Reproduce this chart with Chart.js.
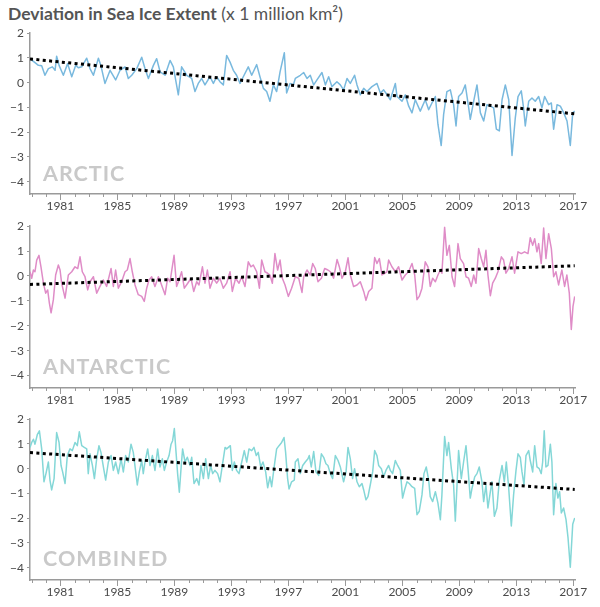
<!DOCTYPE html>
<html><head><meta charset="utf-8">
<script src="https://cdn.jsdelivr.net/npm/chart.js@4/dist/chart.umd.min.js"></script>
<style>
body{margin:0;background:#fff;width:600px;height:607px;position:relative;overflow:hidden;font-family:Lato,"Open Sans",sans-serif}
.title{position:absolute;left:8px;top:3px;font-size:17.5px;line-height:21px;color:#555;white-space:nowrap}
.title b{font-weight:700}
canvas{position:absolute;left:0}
.lbl{position:absolute;left:43px;font-weight:700;font-size:21.5px;line-height:25.8px;letter-spacing:1px;color:#c9c9c9;white-space:nowrap}
</style></head><body>
<div class="title"><b>Deviation in Sea Ice Extent</b> (x 1 million km²)</div>
<canvas id="c1" width="600" height="195" style="top:23px"></canvas>
<canvas id="c2" width="600" height="196" style="top:216px"></canvas>
<canvas id="c3" width="600" height="195" style="top:409px"></canvas>
<div class="lbl" style="top:161px">ARCTIC</div>
<div class="lbl" style="top:354px">ANTARCTIC</div>
<div class="lbl" style="top:546px">COMBINED</div>
<script>
const tickYears = [1981,1985,1989,1993,1997,2001,2005,2009,2013,2017];
const yTicks = [-4,-3,-2,-1,0,1,2];
const trendYears = [1978.87, 2017.1];

const arcticYears = [1978.87,1979.22,1979.46,1979.69,1979.92,1980.16,1980.44,1980.63,1980.74,1980.91,1981.21,1981.51,1981.80,1982.08,1982.26,1982.50,1982.85,1983.08,1983.32,1983.67,1983.85,1984.13,1984.49,1984.88,1985.19,1985.54,1985.77,1986.01,1986.36,1986.71,1986.94,1987.18,1987.53,1987.76,1988.00,1988.35,1988.70,1988.93,1989.28,1989.51,1989.87,1990.22,1990.45,1990.68,1990.92,1991.15,1991.50,1991.74,1991.97,1992.20,1992.44,1992.67,1992.91,1993.14,1993.37,1993.61,1993.84,1994.19,1994.43,1994.78,1995.01,1995.25,1995.48,1995.71,1995.95,1996.18,1996.42,1996.72,1996.88,1997.12,1997.35,
1997.49,1997.84,1998.08,1998.31,1998.54,1998.78,1999.01,1999.36,1999.60,1999.83,2000.06,2000.41,2000.65,2000.88,2001.12,2001.35,2001.65,2001.82,2002.05,2002.29,2002.52,2002.87,2003.22,2003.46,2003.69,2003.93,2004.16,2004.51,2004.63,2004.98,2005.21,2005.45,2005.68,2005.91,2006.26,2006.61,2006.85,2007.08,2007.32,2007.50,2007.73,2007.90,2008.13,2008.37,2008.60,2008.77,2008.95,2009.19,2009.42,2009.66,2009.77,2010.01,2010.24,2010.48,2010.71,2010.94,2011.18,2011.41,2011.60,2011.81,2012.00,2012.23,2012.47,2012.70,2012.93,2013.12,2013.35,2013.51,2013.63,2013.87,2014.10,2014.33,2014.57,2014.80,2014.99,2015.27,2015.46,2015.62,2015.86,2016.09,2016.33,2016.56,2016.79,2016.96,2017.10];
const arcticValues = [0.97,0.81,0.70,0.68,0.30,0.57,0.64,0.50,1.07,0.70,0.30,0.77,0.24,0.70,0.60,0.64,0.99,0.57,0.30,0.99,0.68,-0.03,0.50,0.11,0.50,0.64,0.17,0.30,0.57,1.03,0.57,0.17,0.70,0.97,0.44,0.30,0.90,0.64,-0.49,0.64,0.30,0.17,-0.36,-0.03,0.17,-0.09,0.24,-0.03,0.24,0.04,-0.09,1.10,0.83,0.50,0.30,-0.03,0.24,0.64,0.30,0.73,0.24,-0.23,-0.36,-0.75,-0.09,-0.36,0.44,1.21,-0.42,-0.03,-0.09,
0.17,0.30,0.41,0.17,0.30,-0.09,0.11,0.41,-0.09,0.24,-0.16,0.04,-0.09,-0.29,0.17,-0.03,0.30,-0.09,-0.49,-0.23,-0.36,-0.16,-0.03,-0.42,-0.29,-0.49,-0.69,-0.03,-0.56,-0.75,-0.49,-0.95,-1.22,-0.69,-1.15,-0.69,-1.09,-0.82,-0.56,-1.68,-2.54,-1.28,-0.36,-0.29,-0.89,-1.75,-0.56,-0.42,-0.09,-1.02,-1.48,-0.75,-0.09,-1.22,-1.55,-0.89,-0.95,-1.02,-1.88,-1.95,-0.69,-0.09,-0.69,-2.94,-1.42,-0.56,-0.33,-1.02,-1.75,-0.75,-0.62,-0.75,-0.56,-1.02,-0.56,-0.89,-0.82,-1.88,-0.89,-0.95,-1.22,-1.55,-2.54,-1.22,-1.15];
const arcticTrend = [0.96, -1.26];

const antarcticYears = [1978.87,1978.99,1979.11,1979.22,1979.34,1979.50,1979.64,1979.81,1979.97,1980.11,1980.23,1980.35,1980.51,1980.67,1980.86,1980.98,1981.09,1981.33,1981.56,1981.80,1982.03,1982.22,1982.38,1982.54,1982.73,1982.92,1983.08,1983.32,1983.55,1983.78,1984.02,1984.25,1984.56,1984.72,1984.88,1985.07,1985.30,1985.54,1985.70,1985.89,1986.05,1986.24,1986.47,1986.71,1986.89,1987.06,1987.22,1987.41,1987.64,1987.88,1988.06,1988.35,1988.53,1988.70,1988.98,1989.16,1989.33,1989.51,1989.70,1989.94,1990.17,1990.36,1990.57,1990.73,1990.97,1991.15,1991.32,1991.50,1991.74,1991.97,1992.20,1992.44,1992.67,1992.91,1993.07,1993.30,1993.54,1993.73,1993.96,1994.19,1994.38,1994.54,1994.78,1994.97,1995.13,1995.36,1995.55,1995.71,1995.88,1996.06,1996.25,1996.42,1996.58,1996.77,1997.00,1997.23,
1997.49,1997.73,1997.96,1998.08,1998.31,1998.54,1998.71,1998.89,1999.08,1999.32,1999.55,1999.78,1999.95,2000.18,2000.42,2000.58,2000.77,2001.00,2001.19,2001.35,2001.58,2001.82,2002.05,2002.29,2002.45,2002.64,2002.87,2003.06,2003.22,2003.39,2003.57,2003.76,2003.92,2004.04,2004.27,2004.51,2004.74,2004.98,2005.21,2005.44,2005.68,2005.87,2006.03,2006.19,2006.38,2006.61,2006.80,2006.96,2007.13,2007.32,2007.50,2007.67,2007.78,2007.97,2008.13,2008.30,2008.49,2008.67,2008.91,2009.07,2009.30,2009.47,2009.65,2009.84,2010.01,2010.17,2010.36,2010.54,2010.71,2010.87,2011.01,2011.18,2011.34,2011.53,2011.71,2011.95,2012.11,2012.27,2012.46,2012.70,2012.88,2013.12,2013.35,2013.58,2013.82,2013.98,2014.15,2014.29,2014.45,2014.57,2014.75,2014.92,2015.08,2015.27,2015.46,2015.62,2015.78,2015.97,2016.09,2016.20,2016.39,2016.55,2016.72,2016.86,2016.98,2017.10];
const antarcticValues = [0.17,-0.09,0.24,0.17,0.64,0.83,0.37,-0.29,-0.69,-0.56,-1.09,-1.48,-0.95,0.04,0.44,0.24,-0.29,-0.89,0.04,0.17,0.37,0.30,0.77,0.17,-0.03,-0.56,-0.23,-0.03,-0.69,-0.42,-0.16,-0.42,0.30,-0.42,0.24,-0.49,-0.23,0.17,0.24,0.70,0.17,-0.36,-0.75,-0.82,-1.02,-0.49,-0.16,-0.03,-0.42,-0.03,-0.29,-0.75,-0.09,-0.23,0.83,-0.42,-0.16,0.17,-0.49,-0.29,-0.09,-0.62,-0.23,-0.36,0.37,-0.29,0.24,-0.49,-0.09,-0.29,-0.09,-0.49,-0.29,0.17,-0.62,-0.09,-0.29,-0.03,-0.42,0.57,0.37,0.44,0.17,-0.49,0.64,0.17,0.11,0.04,-0.29,0.90,0.24,0.64,-0.09,-0.36,-0.82,-0.49,
-0.03,-0.09,-0.66,-0.03,0.24,0.04,0.50,0.30,-0.23,-0.09,0.30,0.24,0.17,-0.09,0.66,0.37,-0.09,0.17,0.73,0.04,-0.42,-0.36,-0.23,-0.62,-0.98,-0.62,-0.49,0.74,0.50,0.70,0.04,0.11,0.17,0.64,0.37,0.17,0.37,-0.16,0.04,0.17,0.50,0.04,-0.95,-0.82,-0.49,0.57,0.37,-0.42,-0.09,-0.23,0.04,0.24,0.11,1.96,0.83,1.23,-0.03,-0.42,1.30,0.70,0.50,-0.03,-0.09,-0.42,0.04,-0.29,1.10,0.70,0.37,1.03,0.04,-0.79,-0.29,-0.09,0.17,0.77,0.64,0.11,0.30,0.77,0.11,0.97,0.90,0.97,0.90,1.54,1.23,1.50,0.97,1.30,0.50,1.93,0.70,1.70,1.10,-0.03,0.17,-0.36,-0.03,0.24,-0.42,0.04,-0.69,-2.15,-1.22,-0.82];
const antarcticTrend = [-0.34, 0.41];

const combinedYears = [1978.87,1978.99,1979.11,1979.22,1979.39,1979.53,1979.69,1979.85,1979.99,1980.16,1980.27,1980.39,1980.56,1980.74,1980.91,1981.05,1981.16,1981.33,1981.49,1981.68,1981.84,1982.03,1982.19,1982.33,1982.50,1982.68,1982.85,1982.96,1983.08,1983.25,1983.39,1983.55,1983.71,1983.85,1984.02,1984.18,1984.37,1984.56,1984.72,1984.88,1985.07,1985.26,1985.42,1985.58,1985.77,1985.96,1986.12,1986.29,1986.40,1986.54,1986.71,1986.82,1986.94,1987.13,1987.29,1987.46,1987.64,1987.83,1987.99,1988.16,1988.30,1988.46,1988.63,1988.77,1988.88,1989.00,1989.12,1989.23,1989.35,1989.47,1989.58,1989.75,1989.91,1990.10,1990.22,1990.38,1990.57,1990.73,1990.87,1991.04,1991.20,1991.39,1991.55,1991.69,1991.85,1992.04,1992.20,1992.37,1992.56,1992.67,1992.79,1992.93,1993.07,1993.21,1993.37,1993.54,1993.73,1993.91,1994.08,1994.24,1994.43,1994.59,1994.75,1994.89,1995.06,1995.22,1995.41,1995.55,1995.71,1995.83,1996.02,1996.18,1996.35,1996.53,1996.70,1996.81,1996.95,1997.05,1997.23,1997.42,
1997.49,1997.68,1997.84,1998.01,1998.19,1998.38,1998.47,1998.61,1998.78,1998.94,1999.13,1999.32,1999.48,1999.64,1999.78,1999.95,2000.11,2000.30,2000.49,2000.65,2000.88,2001.05,2001.19,2001.35,2001.51,2001.65,2001.82,2001.98,2002.17,2002.29,2002.45,2002.59,2002.75,2002.92,2003.06,2003.22,2003.34,2003.53,2003.69,2003.85,2004.04,2004.16,2004.32,2004.51,2004.67,2004.86,2005.02,2005.16,2005.33,2005.49,2005.68,2005.87,2006.03,2006.19,2006.38,2006.52,2006.68,2006.85,2006.96,2007.13,2007.32,2007.50,2007.67,2007.78,2007.97,2008.13,2008.25,2008.44,2008.60,2008.72,2008.84,2008.95,2009.14,2009.30,2009.47,2009.61,2009.77,2009.89,2010.08,2010.24,2010.40,2010.59,2010.71,2010.87,2011.01,2011.18,2011.29,2011.46,2011.64,2011.81,2012.00,2012.16,2012.30,2012.46,2012.65,2012.81,2012.98,2013.12,2013.28,2013.40,2013.54,2013.68,2013.87,2013.98,2014.15,2014.29,2014.45,2014.61,2014.75,2014.85,2014.96,2015.08,2015.22,2015.39,2015.50,2015.62,2015.78,2015.92,2016.04,2016.16,2016.32,2016.49,2016.63,2016.79,2016.96,2017.10];
const combinedValues = [0.86,1.06,1.19,0.99,1.39,1.53,0.80,-0.53,-0.20,0.27,-0.46,-0.86,-0.40,1.46,1.06,0.13,-0.13,-0.60,0.53,0.80,0.73,1.06,0.93,1.49,0.93,0.86,0.80,-0.20,0.60,0.13,-0.40,0.40,0.93,0.66,0.07,-0.46,0.27,0.53,-0.07,0.27,-0.20,0.40,-0.13,0.53,0.27,0.99,0.66,-0.13,-0.66,-0.13,0.33,-0.20,0.27,0.80,0.13,0.53,-0.07,0.80,0.07,0.40,-0.07,0.27,0.53,0.99,1.13,1.62,0.66,-0.20,-0.95,0.00,0.80,0.27,0.46,0.13,0.46,-0.60,-0.40,-0.66,0.13,-0.40,0.40,-0.40,0.13,-0.20,-0.07,-0.20,-0.53,0.13,0.86,0.80,0.86,0.93,-0.07,0.27,-0.07,-0.20,0.27,0.73,0.27,0.80,0.73,0.86,0.53,0.66,0.07,0.27,-0.13,-0.77,-0.33,-0.73,0.13,0.80,0.93,1.06,1.26,0.66,-0.40,-0.82,-0.53,-0.46,
0.27,0.40,-0.20,0.13,0.27,0.40,0.53,0.07,0.69,-0.13,-0.27,0.60,0.46,0.20,0.13,-0.20,-0.40,0.53,0.33,0.07,-0.53,-0.13,0.86,0.40,-0.40,0.00,-0.53,-0.73,-0.60,-0.86,-1.26,-1.13,-0.66,-0.13,0.73,0.53,0.13,0.00,-0.33,-0.07,0.13,-0.07,-0.20,0.33,0.13,-0.07,-1.19,-0.86,-0.53,-0.60,-0.73,-0.80,-1.86,-1.72,-1.06,-0.20,0.07,-0.46,-1.13,-1.33,-0.93,-1.39,-2.06,-1.06,1.30,0.53,1.06,0.00,-0.66,-2.12,-0.66,0.73,-0.40,0.27,0.93,0.00,-1.19,-0.80,-0.33,-0.20,0.07,-0.53,-1.33,-0.66,-1.59,-0.93,-0.53,-1.92,-1.59,-0.46,0.13,-0.53,0.27,-0.73,-2.32,-1.06,-0.07,0.60,0.46,-0.13,-0.66,0.53,0.73,0.33,-0.13,0.93,0.07,0.00,-0.20,0.27,1.53,0.07,0.13,0.99,0.27,-1.86,-0.60,-1.19,-0.93,-1.79,-1.59,-2.06,-2.79,-3.98,-2.25,-1.99];
const combinedTrend = [0.65, -0.84];

const yearTickPlugin = {
  id: 'yearTicks',
  afterDraw(chart) {
    const xs = chart.scales.x, ctx = chart.ctx, b = chart.chartArea.bottom;
    ctx.save();
    ctx.strokeStyle = '#9a9a9a';
    ctx.lineWidth = 1;
    for (let yr = Math.ceil(xs.min); yr <= Math.floor(xs.max); yr++) {
      const px = Math.round(xs.getPixelForValue(yr)) + 0.5;
      const len = tickYears.includes(yr) ? 6 : 3;
      ctx.beginPath(); ctx.moveTo(px, b); ctx.lineTo(px, b + len); ctx.stroke();
    }
    ctx.restore();
  }
};

function makePanel(id, years, values, color, trend) {
  new Chart(document.getElementById(id), {
    type: 'line',
    data: {
      datasets: [
        { data: trendYears.map((x, i) => ({x, y: trend[i]})), borderColor: '#000', borderWidth: 3,
          borderDash: [3, 3.4], borderCapStyle: 'butt', pointRadius: 0, order: 0 },
        { data: years.map((x, i) => ({x, y: values[i]})), borderColor: color, borderWidth: 1.5,
          pointRadius: 0, tension: 0, borderJoinStyle: 'round', order: 1 }
      ]
    },
    options: {
      responsive: false, animation: false, devicePixelRatio: 1,
      layout: { padding: { top: 8, right: 25, left: 0, bottom: 0 } },
      plugins: { legend: { display: false }, tooltip: { enabled: false } },
      scales: {
        x: {
          type: 'linear', min: 1978.87, max: 2017.12,
          afterBuildTicks: s => { s.ticks = tickYears.map(v => ({value: v})); },
          afterFit: s => { s.height = 24; },
          grid: { display: false, drawTicks: false },
          border: { display: true, color: '#9a9a9a', width: 1.5 },
          ticks: { padding: 5, color: '#4a4a4a', font: { family: 'Lato', size: 12 }, maxRotation: 0, autoSkip: false,
                   callback: v => String(v) }
        },
        y: {
          min: -4.5, max: 2,
          afterBuildTicks: s => { s.ticks = yTicks.map(v => ({value: v})); },
          afterFit: s => { s.width = 30; },
          grid: { display: true, drawOnChartArea: false, drawTicks: true, tickLength: 3, color: '#9a9a9a' },
          border: { display: true, color: '#9a9a9a', width: 1.5 },
          ticks: { padding: 3, color: '#4a4a4a', font: { family: 'Lato', size: 12 },
                   callback: v => (v < 0 ? '\u2212' + Math.abs(v) : String(v)) }
        }
      }
    },
    plugins: [yearTickPlugin]
  });
}

makePanel('c1', arcticYears, arcticValues, '#79b9de', arcticTrend);
makePanel('c2', antarcticYears, antarcticValues, '#df8cc7', antarcticTrend);
makePanel('c3', combinedYears, combinedValues, '#84d7d7', combinedTrend);
</script>
</body></html>
